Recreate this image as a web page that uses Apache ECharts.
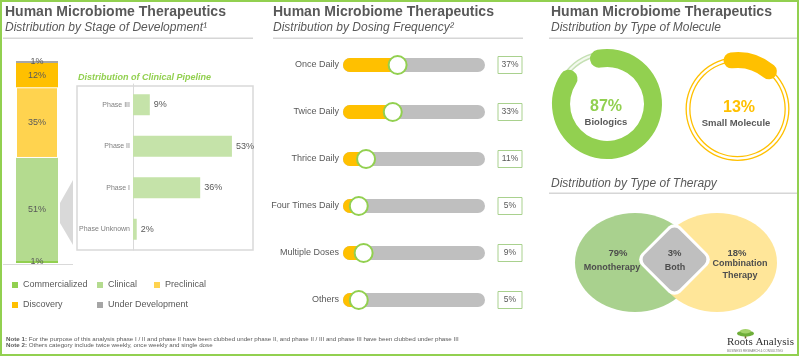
<!DOCTYPE html>
<html><head><meta charset="utf-8">
<script src="https://cdn.jsdelivr.net/npm/echarts@6/dist/echarts.min.js"></script>
<style>html,body{margin:0;padding:0;background:#fff}#c{width:800px;height:357px}</style>
</head><body><div id="c"></div>
<script>
// ---------- data ----------
const panelTitle = 'Human Microbiome Therapeutics';
const subtitles = ['Distribution by Stage of Development\u00B9', 'Distribution by Dosing Frequency\u00B2', 'Distribution by Type of Molecule', 'Distribution by Type of Therapy'];
const stageNames = ['Commercialized', 'Clinical', 'Preclinical', 'Discovery', 'Under Development'];
const stageValues = [1, 51, 35, 12, 1];
const pipelineTitle = 'Distribution of Clinical Pipeline';
const phaseNames = ['Phase III', 'Phase II', 'Phase I', 'Phase Unknown'];
const phaseValues = [9, 53, 36, 2];
const dosingNames = ['Once Daily', 'Twice Daily', 'Thrice Daily', 'Four Times Daily', 'Multiple Doses', 'Others'];
const dosingValues = [37, 33, 11, 5, 9, 5];
const moleculeNames = ['Biologics', 'Small Molecule'];
const moleculeValues = [87, 13];
const therapyNames = ['Monotherapy', 'Both', 'Combination Therapy'];
const therapyValues = [79, 3, 18];
const notes = [
  ['Note 1:', 'For the purpose of this analysis phase I / II and phase II have been clubbed under phase II, and phase II / III and phase III have been clubbed under phase III'],
  ['Note 2:', 'Others category include twice weekly, once weekly and single dose']
];
const brand = 'Roots Analysis';
const brandTag = 'BUSINESS RESEARCH & CONSULTING';

// ---------- styling ----------
const FF = "'Liberation Sans', Arial, sans-serif";
const GREEN = '#92D050', ORANGE = '#FFC000', GRAY_TXT = '#595959';
const stageColors = ['#92D050', '#B4DB8F', '#FFD34F', '#FFC000', '#A6A6A6'];
const legendPos = [[12, 280.5], [97, 280.5], [154, 280.5], [12, 300.5], [97, 300.5]];

function txt(x, y, text, size, color, o) {
  o = o || {};
  const al = o.align || 'left', va = o.va || 'middle';
  return {
    type: 'text', x: x, y: y, silent: true, z: o.z || 10,
    style: {
      text: text, fontSize: size, fontFamily: o.family || FF, fontWeight: o.weight || 'normal',
      fontStyle: o.italic ? 'italic' : 'normal', fill: color,
      align: al, textAlign: al, verticalAlign: va, textVerticalAlign: va,
      lineHeight: o.lh, rich: o.rich
    }
  };
}
function hline(x1, x2, y, color, w) {
  return { type: 'line', silent: true, shape: { x1: x1, y1: y, x2: x2, y2: y }, style: { stroke: color, lineWidth: w } };
}
const noteRich = { b: { fontWeight: 'bold', fontSize: 6.2, fontFamily: FF, fill: GRAY_TXT, color: GRAY_TXT } };

const graphics = [
  { type: 'rect', silent: true, z: 20, shape: { x: 1, y: 1, width: 797, height: 354 }, style: { fill: 'none', stroke: GREEN, lineWidth: 2 } },
  // titles
  txt(5, 12.5, panelTitle, 14, GRAY_TXT, { weight: 'bold' }),
  txt(5, 28, subtitles[0], 12, GRAY_TXT, { italic: true }),
  hline(3, 253, 38.3, '#D6D6D6', 1.5),
  txt(273, 12.5, panelTitle, 14, GRAY_TXT, { weight: 'bold' }),
  txt(273, 28, subtitles[1], 12, GRAY_TXT, { italic: true }),
  hline(273, 523, 38.3, '#D6D6D6', 1.5),
  txt(551, 12.5, panelTitle, 14, GRAY_TXT, { weight: 'bold' }),
  txt(551, 28, subtitles[2], 12, GRAY_TXT, { italic: true }),
  hline(549, 797, 38.3, '#D6D6D6', 1.5),
  txt(551, 183.5, subtitles[3], 12, GRAY_TXT, { italic: true }),
  hline(549, 797, 193.3, '#D6D6D6', 1.5),
  // stage bar baseline + connector + pipeline box
  hline(3, 73, 264.5, '#D9D9D9', 1),
  { type: 'polygon', silent: true, shape: { points: [[60, 203], [73, 180], [73, 245], [60, 223]] }, style: { fill: '#D9D9D9' } },
  { type: 'rect', silent: true, shape: { x: 77, y: 86, width: 176, height: 164 }, style: { fill: 'none', stroke: '#D9D9D9', lineWidth: 1.5 } },
  txt(78, 78, pipelineTitle, 9, GREEN, { weight: 'bold', italic: true }),
  // donut texts
  txt(606, 107, moleculeValues[0] + '%', 16, GREEN, { weight: 'bold', align: 'center' }),
  txt(606, 122, moleculeNames[0], 9.5, GRAY_TXT, { weight: 'bold', align: 'center' }),
  txt(739, 108, moleculeValues[1] + '%', 16, ORANGE, { weight: 'bold', align: 'center' }),
  txt(736, 123, moleculeNames[1], 9.5, GRAY_TXT, { weight: 'bold', align: 'center' }),
  // venn
  { type: 'ellipse', silent: true, shape: { cx: 635, cy: 262.5, rx: 60, ry: 49.5 }, style: { fill: '#A9D18E' } },
  { type: 'ellipse', silent: true, shape: { cx: 717, cy: 262.5, rx: 60, ry: 49.5 }, style: { fill: '#FFE699' } },
  { type: 'rect', silent: true, x: 674.5, y: 259.5, rotation: Math.PI / 4, shape: { x: -27.5, y: -27.5, width: 55, height: 55, r: 8.5 }, style: { fill: '#fff' } },
  { type: 'rect', silent: true, x: 674.5, y: 259.5, rotation: Math.PI / 4, shape: { x: -24.6, y: -24.6, width: 49.2, height: 49.2, r: 7 }, style: { fill: '#BFBFBF' } },
  txt(618, 253, therapyValues[0] + '%', 9.5, '#4D4D4D', { weight: 'bold', align: 'center' }),
  txt(612, 268, therapyNames[0], 9, '#4D4D4D', { weight: 'bold', align: 'center' }),
  txt(674.5, 253, therapyValues[1] + '%', 9.5, '#4D4D4D', { weight: 'bold', align: 'center' }),
  txt(675, 268, therapyNames[1], 9, '#4D4D4D', { weight: 'bold', align: 'center' }),
  txt(737, 253, therapyValues[2] + '%', 9.5, '#4D4D4D', { weight: 'bold', align: 'center' }),
  txt(740, 270, therapyNames[2].replace(' ', '\n'), 9, '#4D4D4D', { weight: 'bold', align: 'center', lh: 12 }),
  // notes
  txt(6, 339.7, '{b|' + notes[0][0] + '} ' + notes[0][1], 6.2, GRAY_TXT, { rich: noteRich }),
  txt(6, 345.6, '{b|' + notes[1][0] + '} ' + notes[1][1], 6.2, GRAY_TXT, { rich: noteRich }),
  // logo
  { type: 'rect', silent: true, shape: { x: 744.7, y: 333.5, width: 1.6, height: 5 }, style: { fill: '#7A5C2E' } },
  { type: 'ellipse', silent: true, shape: { cx: 745.5, cy: 333.5, rx: 8.5, ry: 3 }, style: { fill: '#6FAE3A' } },
  { type: 'ellipse', silent: true, shape: { cx: 745.5, cy: 331.3, rx: 5.5, ry: 2.2 }, style: { fill: '#A5D36B' } },
  txt(727, 342.5, brand, 11, '#333333', { family: "'Liberation Serif', 'Times New Roman', serif" }),
  txt(727, 351.5, brandTag, 3, '#777777', {})
];

// ---------- series ----------
const series = [];
stageNames.forEach(function (n, i) {
  series.push({
    type: 'bar', name: n, stack: 'stage', xAxisIndex: 0, yAxisIndex: 0,
    data: [stageValues[i]], barWidth: 42,
    itemStyle: { color: stageColors[i], borderColor: '#fff', borderWidth: n === 'Preclinical' ? 1 : 0 },
    label: { show: true, position: 'inside', formatter: '{c}%', fontSize: 9, color: GRAY_TXT, fontFamily: FF }
  });
});
series.push({
  type: 'bar', name: 'pipeline', xAxisIndex: 1, yAxisIndex: 1, data: phaseValues, barWidth: 21,
  itemStyle: { color: '#C5E3A9' },
  label: { show: true, position: 'right', distance: 4, formatter: '{c}%', fontSize: 9, color: GRAY_TXT, fontFamily: FF }
});
series.push({
  type: 'custom', name: 'dosing', xAxisIndex: 2, yAxisIndex: 2,
  data: dosingValues.map(function (v, i) { return [v, i]; }),
  encode: { x: 0, y: 1 },
  renderItem: function (params, api) {
    const cs = params.coordSys;
    const p = api.coord([api.value(0), api.value(1)]);
    const h = api.size([0, 1])[1] * 0.3;
    return {
      type: 'group', children: [
        { type: 'rect', shape: { x: cs.x, y: p[1] - h / 2, width: cs.width, height: h, r: h / 2 }, style: { fill: '#BFBFBF' } },
        { type: 'rect', shape: { x: cs.x, y: p[1] - h / 2, width: p[0] - cs.x, height: h, r: h / 2 }, style: { fill: ORANGE } },
        { type: 'circle', shape: { cx: p[0], cy: p[1], r: 9 }, style: { fill: '#fff', stroke: GREEN, lineWidth: 2 } }
      ]
    };
  }
});
// donut thin rings
function ring(center, radius, color) {
  return { type: 'pie', silent: true, z: 1, center: center, radius: radius, data: [{ value: 1 }], label: { show: false }, labelLine: { show: false }, itemStyle: { color: color }, emphasis: { disabled: true } };
}
series.push(ring([607, 104], [48, 53], '#C5E0B4'));
series.push(ring([607, 104], [49.4, 51.6], '#F3F9EE'));
series.push(ring([737.5, 109], [47, 52], ORANGE));
series.push(ring([737.5, 109], [48.3, 50.7], '#FFFFFF'));
moleculeNames.forEach(function (n, i) {
  series.push({
    type: 'bar', name: n, coordinateSystem: 'polar', polarIndex: i, data: [moleculeValues[i]],
    roundCap: true, barWidth: '100%', z: 3, itemStyle: { color: i === 0 ? GREEN : ORANGE }
  });
});

const option = {
  animation: false,
  textStyle: { fontFamily: FF },
  graphic: { elements: graphics },
  legend: stageNames.map(function (n, i) {
    return {
      data: [{ name: n, itemStyle: { color: stageColors[i], borderWidth: 0 } }],
      left: legendPos[i][0], top: legendPos[i][1], padding: 0, itemGap: 0,
      itemWidth: 6, itemHeight: 6, icon: 'rect', selectedMode: false,
      textStyle: { fontSize: 9, color: GRAY_TXT, fontFamily: FF }
    };
  }),
  grid: [
    { left: 16, top: 61, width: 42, height: 202 },
    { left: 133, top: 84, width: 112, height: 166 },
    { left: 343, top: 41.5, width: 142, height: 282 }
  ],
  xAxis: [
    { gridIndex: 0, type: 'category', data: ['Stage'], show: false },
    { gridIndex: 1, type: 'value', min: 0, max: 60, show: false },
    { gridIndex: 2, type: 'value', min: -8, max: 109, show: false }
  ],
  yAxis: [
    { gridIndex: 0, type: 'value', min: 0, max: 100, show: false },
    { gridIndex: 1, type: 'category', data: phaseNames, inverse: true,
      axisLine: { show: true, lineStyle: { color: '#D9D9D9', width: 1 } }, axisTick: { show: false },
      axisLabel: { fontSize: 7, color: '#7F7F7F', margin: 3, interval: 0, fontFamily: FF } },
    { gridIndex: 2, type: 'category', data: dosingNames, inverse: true,
      axisLine: { show: false }, axisTick: { show: false }, splitLine: { show: false },
      axisLabel: { fontSize: 9, color: GRAY_TXT, margin: 4, interval: 0, fontFamily: FF } },
    { gridIndex: 2, type: 'category', data: dosingNames, inverse: true, position: 'right',
      axisLine: { show: false }, axisTick: { show: false }, splitLine: { show: false },
      axisLabel: { margin: 13, interval: 0,
        formatter: function (v, idx) { return '{b|' + dosingValues[idx] + '%}'; },
        rich: { b: { width: 24, height: 17, lineHeight: 17, align: 'center', borderColor: '#A9D18E', borderWidth: 1, color: GRAY_TXT, fontSize: 8.5, fontFamily: FF } } } }
  ],
  polar: [
    { center: [607, 104], radius: [37, 55] },
    { center: [737.5, 109], radius: [41, 57] }
  ],
  angleAxis: [
    { polarIndex: 0, max: 100, startAngle: 100, show: false },
    { polarIndex: 1, max: 100, startAngle: 97, show: false }
  ],
  radiusAxis: [
    { polarIndex: 0, type: 'category', data: ['m'], show: false },
    { polarIndex: 1, type: 'category', data: ['m'], show: false }
  ],
  series: series
};
const chart = echarts.init(document.getElementById('c'), null, { renderer: 'canvas' });
chart.setOption(option);
</script>
</body></html>
